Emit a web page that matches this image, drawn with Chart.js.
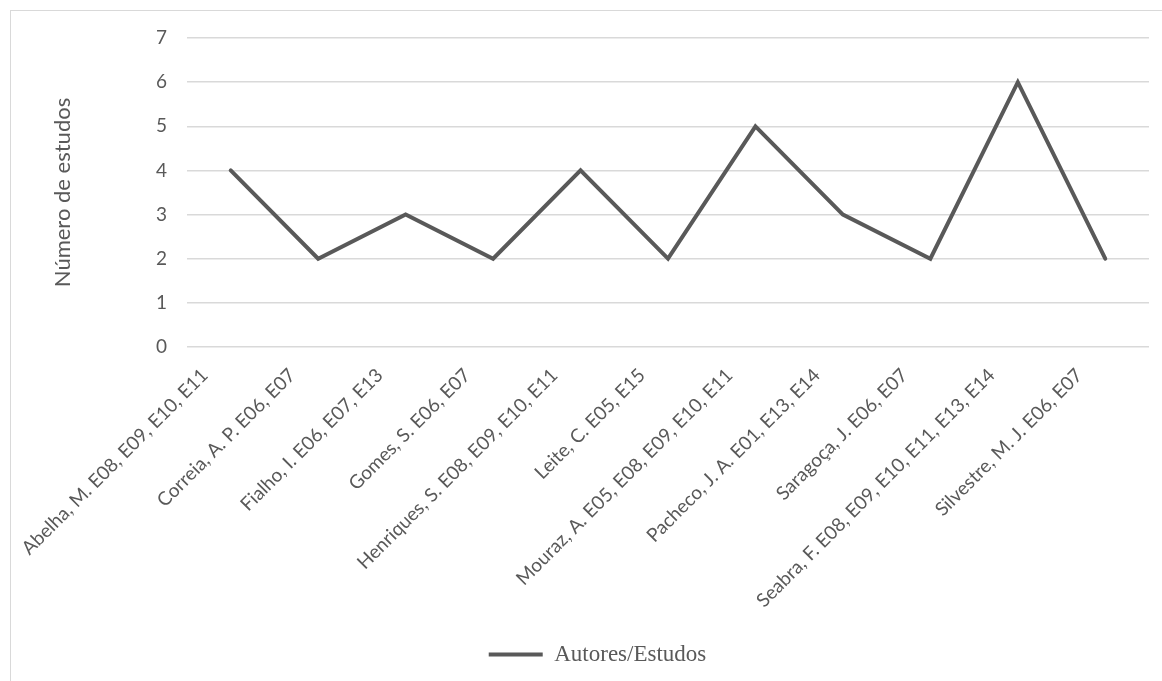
<!DOCTYPE html>
<html>
<head>
<meta charset="utf-8">
<script src="https://cdn.jsdelivr.net/npm/chart.js@4/dist/chart.umd.min.js"></script>
<style>
    body { margin: 0; background: #fff; }
    #frame { position: absolute; left: 10px; top: 10px; width: 1160px; height: 680px; border: 1px solid #d9d9d9; }
    #wrap { position: absolute; left: 0; top: 0; width: 1162px; height: 681px; }
</style>
</head>
<body>
<div id="frame"></div>
<div id="wrap"><canvas id="lineChart" width="1162" height="681"></canvas></div>
<script>
// Autores e estudos
const autores = [
    'Abelha, M. E08, E09, E10, E11',
    'Correia, A. P. E06, E07',
    'Fialho, I. E06, E07, E13',
    'Gomes, S. E06, E07',
    'Henriques, S. E08, E09, E10, E11',
    'Leite, C. E05, E15',
    'Mouraz, A. E05, E08, E09, E10, E11',
    'Pacheco, J. A. E01, E13, E14',
    'Saragoça, J. E06, E07',
    'Seabra, F. E08, E09, E10, E11, E13, E14',
    'Silvestre, M. J. E06, E07'
];
const numeroEstudos = [4, 2, 3, 2, 4, 2, 5, 3, 2, 6, 2];
const yTicks = [0, 1, 2, 3, 4, 5, 6, 7];

const corLinha = '#595959';
const corTexto = '#595959';

const ctx = document.getElementById('lineChart').getContext('2d');
new Chart(ctx, {
    type: 'line',
    data: {
        labels: autores,
        datasets: [{
            label: 'Autores/Estudos',
            data: numeroEstudos,
            borderColor: corLinha,
            backgroundColor: corLinha,
            borderWidth: 4,
            borderCapStyle: 'round',
            pointRadius: 0,
            tension: 0,
            fill: false
        }]
    },
    options: {
        responsive: false,
        animation: false,
        layout: { padding: { left: 46, top: 38, right: 13, bottom: 5 } },
        scales: {
            x: {
                offset: true,
                grid: { display: false },
                border: { display: false },
                afterFit: scale => { scale.height = 286; },
                ticks: {
                    autoSkip: false,
                    minRotation: 45,
                    maxRotation: 45,
                    padding: 9,
                    labelOffset: -26,
                    color: corTexto,
                    font: { family: 'Lato', size: 19 }
                }
            },
            y: {
                min: 0,
                max: 7,
                afterBuildTicks: scale => { scale.ticks = yTicks.map(v => ({ value: v })); },
                afterFit: scale => { scale.width = 141; },
                grid: { color: '#d9d9d9', lineWidth: 1.5, drawTicks: false },
                border: { display: false },
                ticks: {
                    padding: 20,
                    color: corTexto,
                    font: { family: 'Lato', size: 19 }
                },
                title: {
                    display: true,
                    text: 'Número de estudos',
                    color: corTexto,
                    font: { family: 'Lato', size: 22 }
                }
            }
        },
        plugins: {
            tooltip: { enabled: false },
            legend: {
                position: 'bottom',
                labels: {
                    usePointStyle: true,
                    pointStyle: 'line',
                    pointStyleWidth: 54,
                    color: corTexto,
                    font: { family: 'Liberation Serif', size: 23 }
                }
            }
        }
    }
});
</script>
</body>
</html>
